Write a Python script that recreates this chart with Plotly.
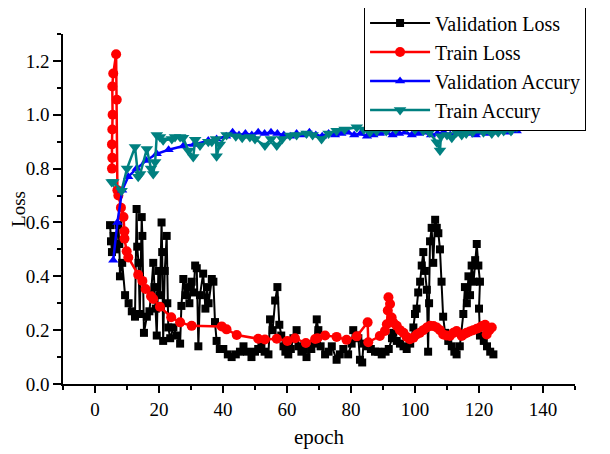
import plotly.graph_objects as go

# Validation Loss (black squares)
vl_x = [4.7,5.0,5.3,5.8,6.3,7.3,7.6,7.8,8.5,9.4,10.5,11.5,12.5,13.0,13.2,13.6,14.0,14.6,14.8,15.3,16.2,17.0,17.5,18.2,18.6,19.0,19.3,19.8,20.3,20.8,21.0,21.3,21.8,22.4,22.6,22.9,23.5,24.5,25.5,26.6,27.0,27.6,28.3,28.9,29.5,30.2,30.8,31.3,31.8,32.3,32.8,33.8,34.5,35.0,35.5,36.5,37.0,37.5,38.0,39.0,40.1,41.5,42.7,44.0,45.3,46.4,47.5,48.9,50.0,51.0,52.0,53.0,54.2,54.7,55.5,56.3,57.0,57.6,58.2,58.9,59.5,60.4,61.2,62.0,63.0,63.6,64.5,65.3,66.1,67.6,68.5,69.3,69.8,70.5,71.9,73.0,74.0,75.5,76.5,77.6,79.1,80.2,80.7,81.5,82.3,82.8,83.5,83.9,85.0,86.2,87.5,88.5,89.6,90.8,91.8,92.8,93.2,94.3,95.3,96.4,97.4,98.5,99.5,100.0,100.5,101.0,101.6,102.1,102.6,103.1,103.7,104.1,104.4,104.7,105.2,105.7,106.3,106.8,107.3,107.8,108.3,108.8,109.4,110.4,111.5,112.3,113.0,114.0,115.1,115.6,116.2,116.7,117.2,117.7,118.3,118.8,119.3,119.8,120.3,120.0,120.3,121.5,122.5,123.5,124.5]
vl_y = [0.59,0.53,0.49,0.55,0.50,0.59,0.52,0.40,0.45,0.33,0.30,0.27,0.25,0.65,0.51,0.45,0.26,0.62,0.55,0.19,0.25,0.27,0.33,0.45,0.36,0.28,0.18,0.42,0.33,0.60,0.49,0.16,0.42,0.55,0.30,0.21,0.17,0.21,0.18,0.15,0.29,0.39,0.33,0.36,0.30,0.38,0.34,0.44,0.43,0.14,0.33,0.41,0.28,0.36,0.30,0.39,0.38,0.23,0.16,0.13,0.13,0.11,0.10,0.11,0.12,0.14,0.12,0.10,0.12,0.13,0.14,0.12,0.11,0.24,0.20,0.31,0.36,0.22,0.18,0.14,0.12,0.11,0.13,0.17,0.20,0.14,0.12,0.13,0.10,0.13,0.15,0.24,0.20,0.14,0.11,0.12,0.14,0.09,0.11,0.13,0.11,0.15,0.20,0.18,0.17,0.09,0.08,0.15,0.14,0.13,0.12,0.12,0.11,0.12,0.13,0.17,0.19,0.16,0.15,0.14,0.13,0.15,0.21,0.26,0.28,0.34,0.38,0.44,0.49,0.42,0.35,0.12,0.30,0.53,0.58,0.45,0.61,0.58,0.56,0.50,0.38,0.25,0.19,0.16,0.14,0.12,0.11,0.14,0.26,0.36,0.30,0.40,0.33,0.44,0.38,0.46,0.52,0.44,0.38,0.28,0.18,0.16,0.14,0.12,0.11]

# Train Loss (red circles)
tl_x = [5.3,5.4,5.3,5.4,5.5,5.4,5.7,6.6,6.8,7.0,7.3,8.1,8.9,9.2,9.2,9.9,10.4,13.5,14.8,15.8,17.5,18.2,20.3,23.8,26.6,30.2,39.6,41.1,44.3,51.0,53.1,56.8,60.1,62.5,65.9,68.8,69.5,71.9,75.5,78.6,81.8,85.2,85.4,89.0,90.6,91.2,91.5,91.7,92.2,92.7,93.2,94.3,95.3,96.4,97.4,98.4,99.5,100.5,101.5,102.6,103.7,104.7,105.8,106.8,107.8,108.8,109.8,110.9,112.0,113.0,114.6,115.3,116.1,117.1,118.2,119.3,120.3,121.0,121.9,122.4,123.2,124.0]
tl_y = [0.80,0.84,0.89,0.945,1.00,1.105,1.153,1.225,1.056,0.72,0.70,0.655,0.62,0.567,0.54,0.493,0.47,0.406,0.383,0.353,0.326,0.316,0.287,0.248,0.229,0.216,0.214,0.203,0.182,0.168,0.165,0.168,0.16,0.17,0.152,0.167,0.17,0.18,0.175,0.164,0.177,0.229,0.155,0.178,0.197,0.222,0.273,0.322,0.297,0.247,0.228,0.216,0.20,0.19,0.175,0.166,0.172,0.184,0.19,0.20,0.21,0.216,0.215,0.21,0.20,0.184,0.18,0.178,0.19,0.197,0.178,0.185,0.19,0.195,0.20,0.205,0.21,0.215,0.22,0.184,0.20,0.21]

# Validation Accuracy (blue up-triangles)
va_x = [5.7,7.0,8.5,10.4,13.0,16.0,19.3,23.0,27.6,31.0,35.4,38.0,41.0,43.0,45.0,47.0,49.0,51.0,53.0,55.0,57.0,59.0,61.0,63.0,65.0,67.0,69.0,71.0,73.0,75.0,77.0,79.0,81.0,83.0,85.0,87.0,89.0,91.0,93.0,95.0,97.0,99.0,101.0,103.0,105.0,107.0,109.0,111.0,113.0,115.0,117.0,119.0,121.0,123.0,125.0,127.0,129.0,131.8]
va_y = [0.46,0.60,0.72,0.77,0.80,0.83,0.855,0.87,0.884,0.89,0.904,0.91,0.92,0.935,0.925,0.93,0.925,0.935,0.93,0.935,0.93,0.925,0.92,0.93,0.925,0.935,0.925,0.92,0.93,0.925,0.93,0.935,0.925,0.93,0.92,0.925,0.93,0.935,0.925,0.93,0.935,0.925,0.93,0.935,0.925,0.93,0.935,0.925,0.93,0.935,0.93,0.925,0.935,0.93,0.935,0.94,0.935,0.94]

# Train Accuracy (teal down-triangles)
ta_x = [5.2,5.7,8.3,10.0,12.5,13.5,14.1,16.2,17.5,18.2,18.8,19.3,20.3,21.3,24.0,25.0,26.6,27.5,29.2,30.7,31.3,32.8,35.4,36.5,37.8,38.0,39.0,41.1,44.0,46.0,48.4,50.0,53.1,55.0,56.8,58.5,60.9,63.0,66.1,68.0,70.8,73.0,75.5,78.0,81.8,84.0,85.9,88.0,91.0,94.0,97.4,100.0,102.6,104.5,106.8,107.8,108.1,110.0,111.5,113.0,114.6,116.0,118.0,121.4,124.0,126.0,127.7,130.0,131.8]
ta_y = [0.75,0.75,0.718,0.80,0.88,0.77,0.78,0.873,0.80,0.78,0.825,0.925,0.917,0.905,0.91,0.917,0.917,0.915,0.867,0.843,0.907,0.886,0.90,0.90,0.91,0.846,0.89,0.925,0.92,0.915,0.917,0.91,0.886,0.91,0.886,0.91,0.923,0.925,0.93,0.925,0.91,0.93,0.941,0.945,0.954,0.945,0.935,0.94,0.94,0.945,0.954,0.945,0.941,0.935,0.898,0.867,0.92,0.925,0.915,0.935,0.925,0.93,0.935,0.935,0.93,0.935,0.94,0.94,0.954]

x_tick_vals = [0, 20, 40, 60, 80, 100, 120, 140]
y_tick_vals = [0.0, 0.2, 0.4, 0.6, 0.8, 1.0, 1.2]

FONT = "Liberation Serif"

fig = go.Figure()
fig.add_trace(go.Scatter(x=vl_x, y=vl_y, mode="lines+markers", name="Validation Loss",
                         line=dict(color="#000000", width=2),
                         marker=dict(symbol="square", size=8, color="#000000")))
fig.add_trace(go.Scatter(x=tl_x, y=tl_y, mode="lines+markers", name="Train Loss",
                         line=dict(color="#FF0000", width=2.5),
                         marker=dict(symbol="circle", size=10, color="#FF0000")))
fig.add_trace(go.Scatter(x=va_x, y=va_y, mode="lines+markers", name="Validation Accury",
                         line=dict(color="#0000FF", width=2.5),
                         marker=dict(symbol="triangle-up", size=9, color="#0000FF")))
fig.add_trace(go.Scatter(x=ta_x, y=ta_y, mode="lines+markers", name="Train Accury",
                         line=dict(color="#008080", width=2.5),
                         marker=dict(symbol="triangle-down", size=11, color="#008080")))

# page body has an 8px margin: figure is sized/offset to compensate
fig.update_layout(
    width=602, height=446,
    margin=dict(l=55, r=35, t=26, b=70, autoexpand=False),
    paper_bgcolor="white", plot_bgcolor="white",
    font=dict(family=FONT, size=19, color="black"),
    showlegend=True,
    legend=dict(x=0.588, y=1.09, xanchor="left", yanchor="top",
                bordercolor="black", borderwidth=1, bgcolor="white",
                font=dict(family=FONT, size=20, color="black"),
                tracegroupgap=0, itemwidth=60),
    xaxis=dict(range=[-10, 150], tickvals=x_tick_vals, ticks="outside", ticklen=7,
               tickwidth=1.5, tickcolor="black", showline=True, linecolor="black",
               linewidth=1.5, showgrid=False, zeroline=False, automargin=False,
               minor=dict(dtick=10, tick0=0, ticks="outside", ticklen=4, tickcolor="black", tickwidth=1.5),
               title=dict(text="epoch", font=dict(family=FONT, size=21), standoff=11),
               tickfont=dict(family=FONT, size=19)),
    yaxis=dict(range=[0, 1.3], tickvals=y_tick_vals, tickformat=".1f", ticks="outside", ticklen=8,
               tickwidth=1.5, tickcolor="black", showline=True, linecolor="black",
               linewidth=1.5, showgrid=False, zeroline=False, automargin=False,
               minor=dict(dtick=0.1, tick0=0, ticks="outside", ticklen=4, tickcolor="black", tickwidth=1.5),
               title=dict(text="Loss", font=dict(family=FONT, size=19), standoff=11),
               tickfont=dict(family=FONT, size=19)),
)

fig.write_html("out.html")
